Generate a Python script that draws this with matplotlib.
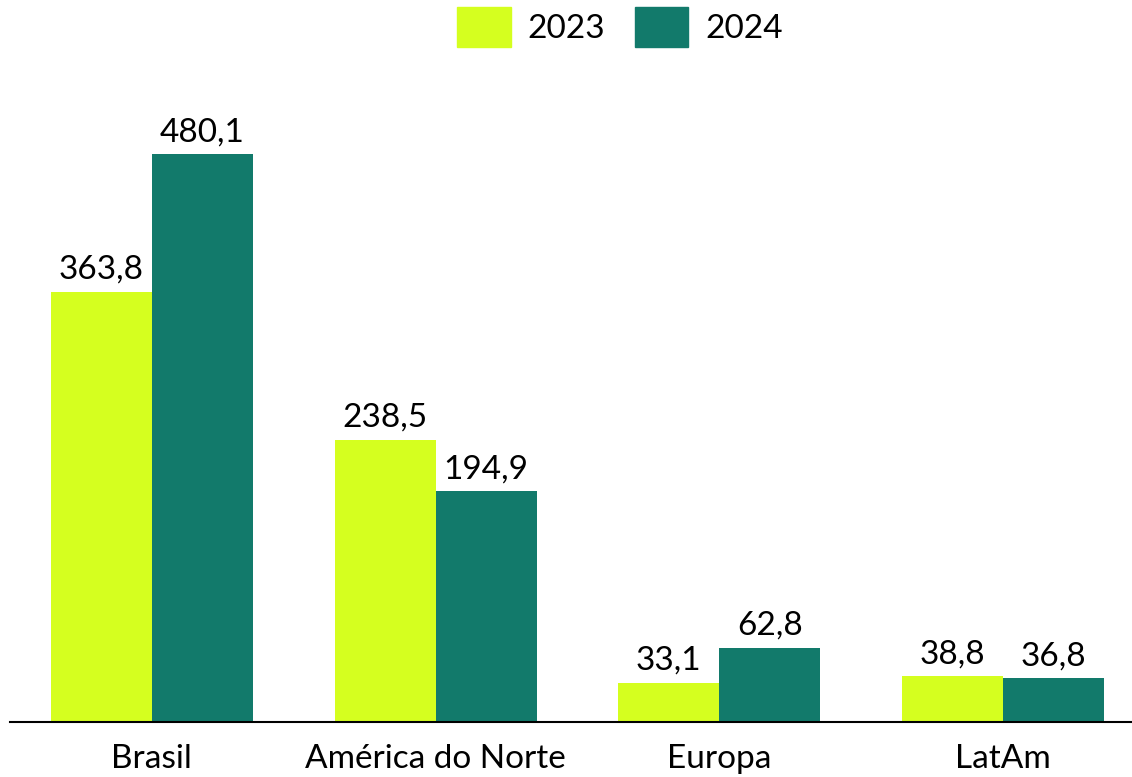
import matplotlib.pyplot as plt
import numpy as np
from matplotlib.patches import Patch

# Dados
regioes = ["Brasil", "América do Norte", "Europa", "LatAm"]
valores_2023 = [363.8, 238.5, 33.1, 38.8]
valores_2024 = [480.1, 194.9, 62.8, 36.8]
anos = ["2023", "2024"]

cor_2023 = "#D5FF1F"
cor_2024 = "#127A6B"

plt.rcParams['font.family'] = ['Lato', 'DejaVu Sans']

fig = plt.figure(figsize=(11.32, 7.77), dpi=100)
ax = fig.add_axes([10 / 1132, 1 - 722 / 777, 1 - 10 / 1132, 622 / 777])

x = np.arange(len(regioes))
largura = 0.356

b1 = ax.bar(x - largura / 2, valores_2023, largura, color=cor_2023)
b2 = ax.bar(x + largura / 2, valores_2024, largura, color=cor_2024)

def fmt(v):
    return f"{v:.1f}".replace(".", ",")

for barras, vals in ((b1, valores_2023), (b2, valores_2024)):
    for b, v in zip(barras, vals):
        ax.annotate(fmt(v), (b.get_x() + b.get_width() / 2, v),
                    xytext=(0, 5), textcoords="offset points",
                    ha="center", va="bottom", fontsize=24)

ax.set_xlim(-0.5, 3.455)
ax.set_ylim(0, 525.8)
ax.set_xticks(x)
ax.set_xticklabels(regioes, fontsize=24)
ax.tick_params(axis="x", length=0, pad=16)
ax.set_yticks([])
for s in ["top", "right", "left"]:
    ax.spines[s].set_visible(False)
ax.spines["bottom"].set_linewidth(1.5)

handles = [Patch(color=cor_2023), Patch(color=cor_2024)]
fig.legend(handles, anos, loc="upper center", bbox_to_anchor=(620 / 1132, 1.03),
           ncol=2, frameon=False, fontsize=24, handlelength=1.6, handleheight=1.5,
           columnspacing=0.9, handletextpad=0.5)

fig.savefig("out.png", dpi=100)
